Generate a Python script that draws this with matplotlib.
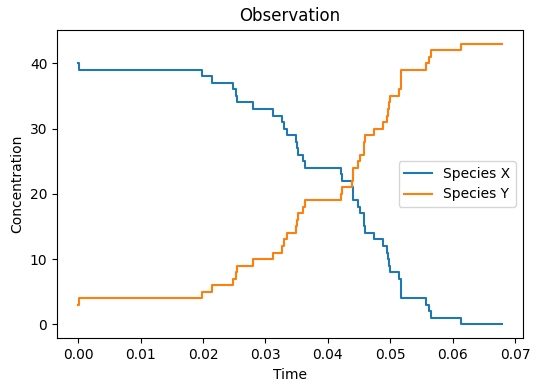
import matplotlib
matplotlib.use("Agg")
import matplotlib.pyplot as plt

# event times (step changes)
time = [0.0, 0.00005, 0.01981, 0.02142, 0.02478, 0.02521, 0.02542, 0.02793,
        0.03114, 0.03266, 0.03295, 0.03351, 0.03487, 0.03503, 0.03519,
        0.03599, 0.03626, 0.04203, 0.04229, 0.04379, 0.04400, 0.04405,
        0.04480, 0.04507, 0.04572, 0.04581, 0.04592, 0.04736, 0.04876,
        0.04953, 0.04966, 0.04982, 0.04993, 0.05142, 0.05164, 0.05166,
        0.05168, 0.05569, 0.05614, 0.05645, 0.06135, 0.06782]

species_x = [40, 39, 38, 37, 36, 35, 34, 33, 32, 31, 30, 29, 28, 27, 26,
             25, 24, 23, 22, 21, 20, 19, 18, 17, 16, 15, 14, 13, 12, 11,
             10, 9, 8, 7, 6, 5, 4, 3, 2, 1, 0, 0]

species_y = [3, 4, 5, 6, 7, 8, 9, 10, 11, 12, 13, 14, 15, 16, 17,
             18, 19, 20, 21, 22, 23, 24, 25, 26, 27, 28, 29, 30, 31, 32,
             33, 34, 35, 36, 37, 38, 39, 40, 41, 42, 43, 43]

fig = plt.figure(figsize=(5.4, 3.91), dpi=100)
ax = fig.add_axes([0.1057, 0.1348, 0.8623, 0.7892])

ax.step(time, species_x, where="post", label="Species X")
ax.step(time, species_y, where="post", label="Species Y")

ax.set_title("Observation")
ax.set_xlabel("Time")
ax.set_ylabel("Concentration")
ax.legend(loc="center right")

fig.savefig("out.png", dpi=100)
